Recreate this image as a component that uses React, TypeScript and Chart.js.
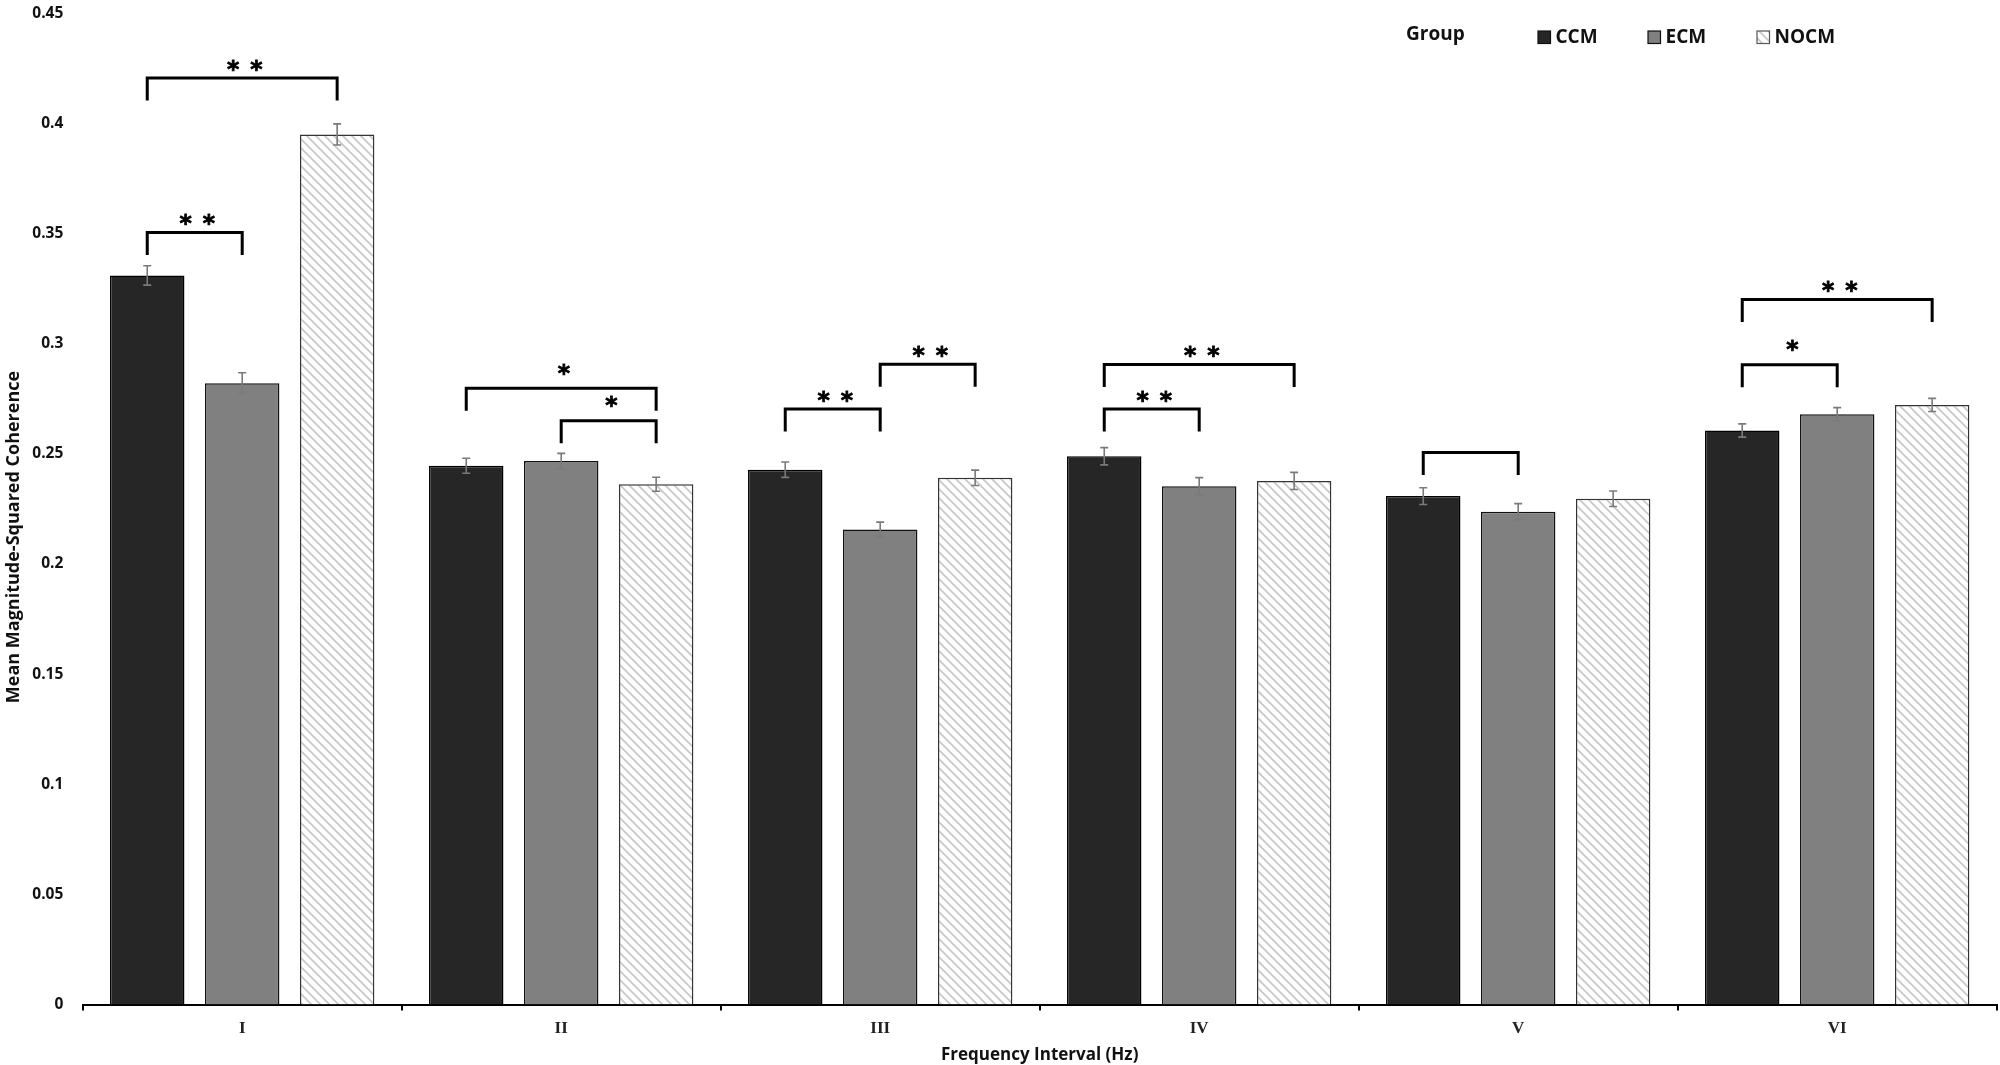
import { useEffect, useRef } from 'react';
import { Chart, registerables } from 'chart.js';

Chart.register(...registerables);

const intervals = ['I', 'II', 'III', 'IV', 'V', 'VI'];
const groups = ['CCM', 'ECM', 'NOCM'];

const ccmMeans = [0.331, 0.2446, 0.2428, 0.2489, 0.2308, 0.2606];
const ecmMeans = [0.2821, 0.2467, 0.2156, 0.2353, 0.2237, 0.268];
const nocmMeans = [0.395, 0.2362, 0.2391, 0.2377, 0.2296, 0.2722];

const ccmErrors = [0.0044, 0.0034, 0.0035, 0.0039, 0.0038, 0.003];
const ecmErrors = [0.0047, 0.0035, 0.0034, 0.0039, 0.0037, 0.003];
const nocmErrors = [0.0048, 0.0032, 0.0035, 0.0039, 0.0035, 0.003];

const yTickValues = [0, 0.05, 0.1, 0.15, 0.2, 0.25, 0.3, 0.35, 0.4, 0.45];

// significance brackets: interval, from group, to group, bracket height, number of stars
const bracketIntervals = [0, 0, 1, 1, 2, 2, 3, 3, 4, 5, 5];
const bracketFrom = [0, 0, 0, 1, 0, 1, 0, 0, 0, 0, 0];
const bracketTo = [2, 1, 2, 2, 1, 2, 2, 1, 1, 2, 1];
const bracketLevels = [0.4206, 0.3505, 0.2798, 0.265, 0.2703, 0.2907, 0.2906, 0.2703, 0.2506, 0.3201, 0.2904];
const bracketStars = [2, 2, 1, 1, 2, 2, 2, 2, 0, 2, 1];

const SANS = '"Open Sans", "Noto Sans", sans-serif';
const errors = [ccmErrors, ecmErrors, nocmErrors];

function makeHatch(): CanvasPattern | string {
  const s = 9;
  const c = document.createElement('canvas');
  c.width = s;
  c.height = s;
  const g = c.getContext('2d');
  if (!g) return '#fff';
  g.fillStyle = '#fff';
  g.fillRect(0, 0, s, s);
  g.strokeStyle = '#c8c8c8';
  g.lineWidth = 1.8;
  g.beginPath();
  g.moveTo(0, 0);
  g.lineTo(s, s);
  g.moveTo(-s, 0);
  g.lineTo(s, 2 * s);
  g.moveTo(0, -s);
  g.lineTo(2 * s, s);
  g.stroke();
  return g.createPattern(c, 'repeat') || '#fff';
}

// error bars, brackets, legend and y title
const extras = {
  id: 'extras',
  afterDatasetsDraw(chart: any) {
    const { ctx, scales } = chart;
    const y = scales.y;

    // error bars
    ctx.save();
    ctx.strokeStyle = '#7a7a7a';
    ctx.lineWidth = 1.6;
    chart.data.datasets.forEach((ds: any, d: number) => {
      const meta = chart.getDatasetMeta(d);
      meta.data.forEach((bar: any, i: number) => {
        const m = ds.data[i];
        const e = errors[d][i];
        const top = y.getPixelForValue(m + e);
        const bot = y.getPixelForValue(m - e);
        ctx.beginPath();
        ctx.moveTo(bar.x, top);
        ctx.lineTo(bar.x, bot);
        ctx.moveTo(bar.x - 4, top);
        ctx.lineTo(bar.x + 4, top);
        ctx.moveTo(bar.x - 4, bot);
        ctx.lineTo(bar.x + 4, bot);
        ctx.stroke();
      });
    });
    ctx.restore();

    // brackets
    ctx.save();
    ctx.font = `bold 100px "DejaVu Sans"`;
    const mm = ctx.measureText('*');
    const inkW = mm.actualBoundingBoxLeft + mm.actualBoundingBoxRight;
    const starSize = (100 * 11.5) / inkW;
    ctx.font = `bold ${starSize}px "DejaVu Sans"`;
    const sm = ctx.measureText('*');
    const inkMid = (sm.actualBoundingBoxDescent - sm.actualBoundingBoxAscent) / 2;
    const inkMidX = (sm.actualBoundingBoxRight - sm.actualBoundingBoxLeft) / 2;
    ctx.strokeStyle = '#000';
    ctx.fillStyle = '#000';
    ctx.lineWidth = 3;
    bracketIntervals.forEach((gi, k) => {
      const x1 = chart.getDatasetMeta(bracketFrom[k]).data[gi].x;
      const x2 = chart.getDatasetMeta(bracketTo[k]).data[gi].x;
      const yl = y.getPixelForValue(bracketLevels[k]);
      ctx.beginPath();
      ctx.moveTo(x1, yl + 22.5);
      ctx.lineTo(x1, yl);
      ctx.lineTo(x2, yl);
      ctx.lineTo(x2, yl + 22.5);
      ctx.stroke();
      const cx = (x1 + x2) / 2 + 2.5;
      const n = bracketStars[k];
      const cy = yl - (n === 1 ? 19 : 12.5);
      const xs = n === 1 ? [cx] : n === 2 ? [cx - 11.6, cx + 11.6] : [];
      xs.forEach((sx) => {
        ctx.fillText('*', sx - inkMidX, cy - inkMid);
        ctx.lineWidth = 0.8;
        ctx.strokeText('*', sx - inkMidX, cy - inkMid);
        ctx.lineWidth = 3;
      });
    });
    ctx.restore();
  },
  afterDraw(chart: any) {
    const { ctx } = chart;
    ctx.save();
    // legend
    ctx.fillStyle = '#111';
    ctx.font = `bold 19px ${SANS}`;
    ctx.textBaseline = 'middle';
    ctx.fillText('Group', 1406, 35);
    const boxX = [1538, 1648, 1757];
    chart.data.datasets.forEach((ds: any, d: number) => {
      const bx = boxX[d];
      ctx.fillStyle = ds.backgroundColor;
      ctx.fillRect(bx, 31, 12.5, 12.5);
      ctx.strokeStyle = d === 2 ? '#555' : '#111';
      ctx.lineWidth = 1.2;
      ctx.strokeRect(bx, 31, 12.5, 12.5);
      ctx.fillStyle = '#111';
      ctx.fillText(ds.label, bx + 17.5, 37.5);
    });
    // y axis title
    ctx.translate(13.5, 537);
    ctx.rotate(-Math.PI / 2);
    ctx.textAlign = 'center';
    ctx.font = `bold 18px ${SANS}`;
    ctx.fillText('Mean Magnitude-Squared Coherence', 0, 0);
    ctx.restore();
  },
};

export default function App() {
  const canvasRef = useRef<HTMLCanvasElement>(null);

  useEffect(() => {
    document.body.style.margin = '0';
    document.body.style.overflow = 'hidden';
    const ctx = canvasRef.current?.getContext('2d');
    if (!ctx) return;
    const hatch = makeHatch();

    const chart = new Chart(ctx, {
      type: 'bar',
      data: {
        labels: intervals,
        datasets: [
          { label: groups[0], data: ccmMeans, backgroundColor: '#262626', borderColor: '#000', borderWidth: 1.5 },
          { label: groups[1], data: ecmMeans, backgroundColor: '#808080', borderColor: '#111', borderWidth: 1.5 },
          { label: groups[2], data: nocmMeans, backgroundColor: hatch as any, borderColor: '#333', borderWidth: 1.5 },
        ].map((d) => ({ ...d, categoryPercentage: 0.893, barPercentage: 0.784 })),
      },
      options: {
        responsive: true,
        maintainAspectRatio: false,
        animation: false,
        layout: { padding: { top: 13.3, right: 3.3, left: 0, bottom: 0 } },
        plugins: {
          legend: { display: false },
          tooltip: { enabled: false },
        },
        scales: {
          x: {
            grid: { display: true, drawOnChartArea: false, drawTicks: true, tickLength: 6, color: '#000', lineWidth: 2, offset: true },
            border: { display: true, color: '#000', width: 2 },
            ticks: { font: { family: '"Liberation Serif", serif', size: 17, weight: 'bold' }, color: '#222', padding: 8 },
            title: {
              display: true,
              text: 'Frequency Interval (Hz)',
              font: { family: SANS, size: 17, weight: 'bold' },
              color: '#111',
              padding: { top: 0, bottom: 0 },
            },
            afterFit: (s: any) => {
              s.height = 60.5;
            },
          },
          y: {
            min: 0,
            max: 0.45,
            afterBuildTicks: (s: any) => {
              s.ticks = yTickValues.map((v) => ({ value: v }));
            },
            ticks: {
              callback: (v: any) => String(v),
              font: { family: SANS, size: 15.5, weight: 'bold' },
              color: '#111',
              padding: 19.4,
            },
            grid: { display: false, drawTicks: false },
            border: { display: false },
            afterFit: (s: any) => {
              s.width = 82.7;
              s.paddingTop = 0;
              s.paddingBottom = 0;
            },
          },
        },
      },
      plugins: [extras],
    });

    return () => chart.destroy();
  }, []);

  return (
    <div style={{ width: 2000, height: 1065, position: 'relative' }}>
      <canvas ref={canvasRef} />
    </div>
  );
}
